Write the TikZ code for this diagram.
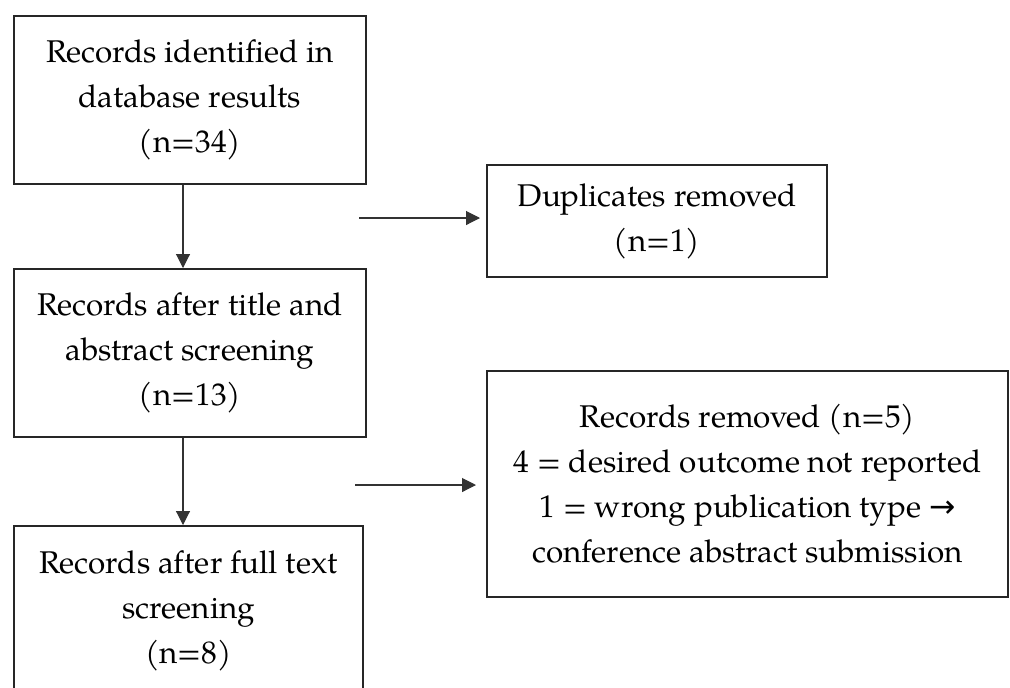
\documentclass[tikz,border=0pt]{standalone}
\usepackage{fontspec}
\setmainfont{TeX Gyre Pagella}
\newfontfamily\arrowfont{DejaVu Sans}
\usetikzlibrary{arrows.meta}

\begin{document}
\begin{tikzpicture}[x=0.5pt,y=-0.5pt,
    box/.style={shape=rectangle, draw=black!85, line width=1pt, align=center, inner sep=0pt, text=black, font=\fontsize{15.7}{22.5}\selectfont},
    arr/.style={draw=black!80, line width=0.55pt, -{Triangle[width=7pt,length=7pt]}}]
    \useasboundingbox (0,0) rectangle (1010,687);
    \clip (0,0) rectangle (1010,687);

    \node[box, minimum width=176pt, minimum height=84pt] (found) at (190,100) {Records identified in\\database results\\(n=34)};
    \node[box, minimum width=176pt, minimum height=84pt] (screened) at (190,353) {Records after title and\\abstract screening\\(n=13)};
    \node[box, minimum width=174.5pt, minimum height=85pt] (fulltext) at (188.5,611) {Records after full text\\screening\\(n=8)};
    \node[box, minimum width=170pt, minimum height=56pt] (dupl) at (657,221) {Duplicates removed\\(n=1)};
    \node[box, minimum width=260.5pt, minimum height=113pt] (removed) at (747.5,484) {Records removed (n=5)\\4 = desired outcome not reported\\1 = wrong publication type {\arrowfont →}\\conference abstract submission};

    \coordinate (spine) at (183,0);
    \draw[arr] (found.south -| spine) -- (screened.north -| spine);
    \draw[arr] (screened.south -| spine) -- (fulltext.north -| spine);

    \coordinate (duplfrom) at (359,218);
    \draw[arr, shorten >=3pt] (duplfrom) -- (duplfrom -| dupl.west);
    \coordinate (remfrom) at (355,485);
    \draw[arr, shorten >=5pt] (remfrom) -- (remfrom -| removed.west);
\end{tikzpicture}
\end{document}
